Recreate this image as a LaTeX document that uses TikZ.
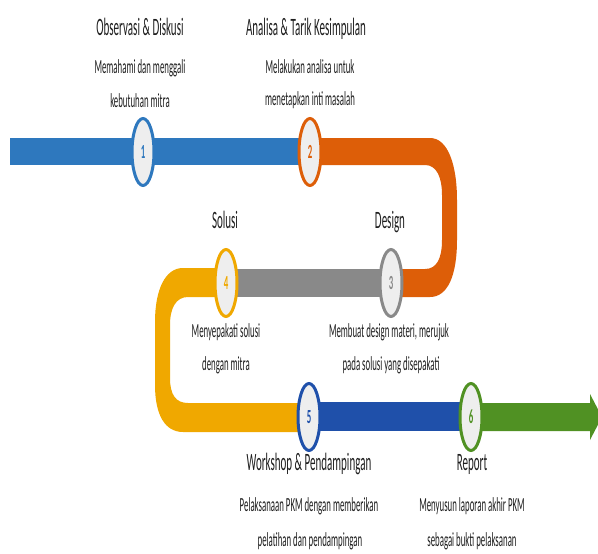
\documentclass[tikz,border=0pt]{standalone}
\usepackage{fontspec}
\setmainfont{Carlito}[FakeStretch=0.44]
\usetikzlibrary{shapes.geometric}

\definecolor{bandblue}{RGB}{46,120,190}
\definecolor{bandorange}{RGB}{221,94,8}
\definecolor{bandgray}{RGB}{137,137,137}
\definecolor{bandyellow}{RGB}{240,168,0}
\definecolor{banddark}{RGB}{31,80,170}
\definecolor{bandgreen}{RGB}{80,145,35}
\definecolor{circfill}{RGB}{238,238,238}
\definecolor{txt}{RGB}{30,30,30}

\tikzset{
  stepcirc/.style={ellipse, draw=#1, text=#1, line width=3pt, fill=circfill,
    minimum width=22pt, minimum height=67pt, inner sep=0pt,
    font=\fontsize{20}{20}\selectfont\bfseries},
  headtext/.style={anchor=base, text=txt, inner sep=0pt,
    font=\fontsize{25}{25}\selectfont},
  desctext/.style={anchor=base, text=txt, inner sep=0pt,
    font=\fontsize{20}{20}\selectfont},
}

\begin{document}
\begin{tikzpicture}[x=1pt,y=-1pt]

\useasboundingbox (0,0) rectangle (598,554);

% band points
\coordinate (p1) at (143,152);
\coordinate (p2) at (310,152);
\coordinate (p3) at (391,283);
\coordinate (p4) at (226,283);
\coordinate (p5) at (309,417);
\coordinate (p6) at (471,417);

% bands
\fill[bandblue] (10,138) rectangle (310,165);
\fill[bandorange] (310,138) -- (430,138) .. controls (448,138) and (457,165) .. (457,200)
  -- (457,240) .. controls (457,275) and (448,297) .. (430,297) -- (391,297) -- (391,269)
  -- (425,269) .. controls (437,269) and (442,258) .. (442,240) -- (442,195)
  .. controls (442,178) and (437,165) .. (425,165) -- (310,165) -- cycle;
\fill[bandgray] (226,269) rectangle (391,297);
\fill[bandyellow] (226,268) -- (183,268) .. controls (165,268) and (155,290) .. (155,322)
  -- (155,385) .. controls (155,415) and (165,432) .. (183,432) -- (309,432) -- (309,403)
  -- (188,403) .. controls (176,403) and (170,395) .. (170,378) -- (170,325)
  .. controls (170,308) and (176,297) .. (188,297) -- (226,297) -- cycle;
\fill[banddark] (309,402) rectangle (471,431);
\fill[bandgreen] (471,403) -- (590,403) -- (590,394) -- (602,417) -- (590,440)
  -- (590,431) -- (471,431) -- cycle;

% steps
\node[stepcirc=bandblue] (c1) at (p1) {1};
\node[stepcirc=bandorange] (c2) at (p2) {2};
\node[stepcirc=bandgray] (c3) at (p3) {3};
\node[stepcirc=bandyellow] (c4) at (p4) {4};
\node[stepcirc=banddark] (c5) at (p5) {5};
\node[stepcirc=bandgreen] (c6) at (p6) {6};

% labels
\node[headtext] (h1) at (140,35) {Observasi \& Diskusi};
\node[desctext] (d1a) at (140,73) {Memahami dan menggali};
\node[desctext] (d1b) at (140,107) {kebutuhan mitra};

\node[headtext] (h2) at (306,35) {Analisa \& Tarik Kesimpulan};
\node[desctext] (d2a) at (310,73) {Melakukan analisa untuk};
\node[desctext] (d2b) at (310,105) {menetapkan inti masalah};

\node[headtext] (h3) at (390,228) {Design};
\node[desctext] (d3a) at (389,337) {Membuat design materi, merujuk};
\node[desctext] (d3b) at (391,370) {pada solusi yang disepakati};

\node[headtext] (h4) at (225,228) {Solusi};
\node[desctext] (d4a) at (226,337) {Menyepakati solusi};
\node[desctext] (d4b) at (226,370) {dengan mitra};

\node[headtext] (h5) at (309,470) {Workshop \& Pendampingan};
\node[desctext] (d5a) at (309,511) {Pelaksanaan PKM dengan memberikan};
\node[desctext] (d5b) at (310,546) {pelatihan dan pendampingan};

\node[headtext] (h6) at (472,470) {Report};
\node[desctext] (d6a) at (472,511) {Menyusun laporan akhir PKM};
\node[desctext] (d6b) at (472,546) {sebagai bukti pelaksanan};

\end{tikzpicture}
\end{document}
